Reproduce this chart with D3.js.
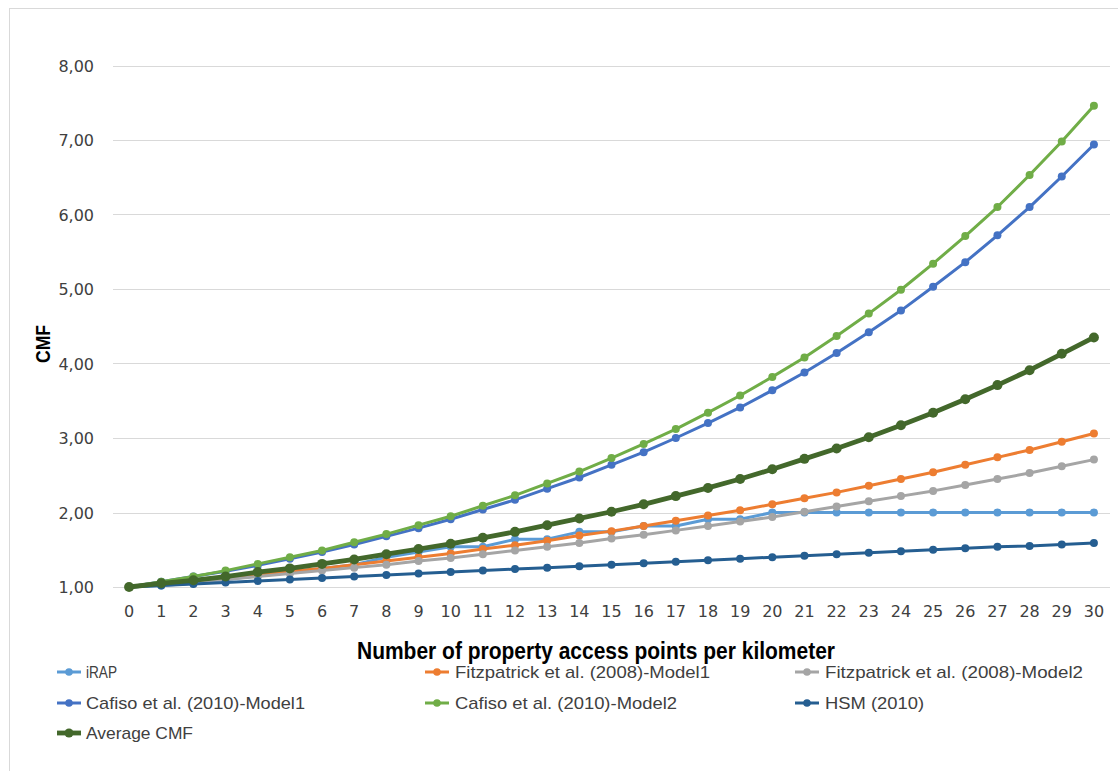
<!DOCTYPE html>
<html><head><meta charset="utf-8">
<script src="https://cdn.jsdelivr.net/npm/d3@7"></script>
<style>html,body{margin:0;padding:0;background:#fff;}svg{display:block;}</style>
</head><body>
<svg id="chart" width="1118" height="771"></svg>
<script>
const categories = [0,1,2,3,4,5,6,7,8,9,10,11,12,13,14,15,16,17,18,19,20,21,22,23,24,25,26,27,28,29,30];
const yTicks = [1,2,3,4,5,6,7,8];
const xTitle = "Number of property access points per kilometer";
const yTitle = "CMF";

const iRAP = [1.00,1.02,1.05,1.10,1.15,1.20,1.25,1.30,1.40,1.47,1.54,1.54,1.64,1.64,1.74,1.74,1.82,1.82,1.91,1.91,2.00,2.00,2.00,2.00,2.00,2.00,2.00,2.00,2.00,2.00,2.00];
const fitz1 = [1.00,1.04,1.08,1.12,1.16,1.21,1.25,1.30,1.35,1.40,1.45,1.51,1.56,1.62,1.69,1.75,1.82,1.89,1.96,2.03,2.11,2.19,2.27,2.36,2.45,2.54,2.64,2.74,2.84,2.95,3.06];
const fitz2 = [1.00,1.03,1.07,1.10,1.14,1.18,1.22,1.26,1.30,1.35,1.39,1.44,1.49,1.54,1.59,1.65,1.70,1.76,1.82,1.88,1.94,2.01,2.08,2.15,2.22,2.29,2.37,2.45,2.53,2.62,2.71];
const cafiso1 = [1.00,1.07,1.14,1.21,1.29,1.38,1.47,1.57,1.68,1.79,1.91,2.04,2.17,2.32,2.47,2.64,2.81,3.00,3.20,3.41,3.64,3.88,4.14,4.42,4.71,5.03,5.36,5.72,6.10,6.51,6.94];
const cafiso2 = [1.00,1.07,1.14,1.22,1.31,1.40,1.49,1.60,1.71,1.83,1.95,2.09,2.23,2.39,2.55,2.73,2.92,3.12,3.34,3.57,3.82,4.08,4.37,4.67,4.99,5.34,5.71,6.10,6.53,6.98,7.46];
const hsm = [1.00,1.02,1.04,1.06,1.08,1.10,1.12,1.14,1.16,1.18,1.20,1.22,1.24,1.26,1.28,1.30,1.32,1.34,1.36,1.38,1.40,1.42,1.44,1.46,1.48,1.50,1.52,1.54,1.55,1.57,1.59];
const avgCMF = [1.00,1.05,1.09,1.14,1.20,1.25,1.31,1.37,1.44,1.51,1.58,1.66,1.74,1.83,1.92,2.01,2.11,2.22,2.33,2.45,2.58,2.72,2.86,3.01,3.17,3.34,3.52,3.71,3.91,4.13,4.35];

const seriesNames = ["iRAP","Fitzpatrick et al. (2008)-Model1","Fitzpatrick et al. (2008)-Model2","Cafiso et al. (2010)-Model1","Cafiso et al. (2010)-Model2","HSM (2010)","Average CMF"];
const seriesValues = [iRAP, fitz1, fitz2, cafiso1, cafiso2, hsm, avgCMF];
const seriesColors = ["#5b9bd5","#ed7d31","#a5a5a5","#4472c4","#70ad47","#255e91","#43682b"];
const legendWidths = [31,255,258,219,222,99,107];

const svg = d3.select("#chart");
const plot = {left:113, right:1110, top:65.5, bottom:587};

// outer frame
svg.append("rect").attr("x",9.5).attr("y",8.5).attr("width",1130).attr("height",790)
  .attr("fill","#fff").attr("stroke","#d9d9d9").attr("stroke-width",1);

const x = d3.scalePoint().domain(categories).range([plot.left, plot.right]).padding(0.5);
const y = d3.scaleLinear().domain([1,8]).range([plot.bottom, plot.top]);

const loc = d3.formatLocale({decimal:",", thousands:".", grouping:[3], currency:["","€"]});
const fmt = loc.format(".2f");

// gridlines
svg.append("g").selectAll("line").data(yTicks).join("line")
  .attr("x1",plot.left).attr("x2",plot.right)
  .attr("y1",d=>Math.round(y(d))+0.5).attr("y2",d=>Math.round(y(d))+0.5)
  .attr("stroke","#d9d9d9").attr("stroke-width",1);

// y tick labels
svg.append("g").selectAll("text").data(yTicks).join("text")
  .attr("x",94).attr("y",d=>y(d)+6)
  .attr("text-anchor","end")
  .attr("font-family","DejaVu Sans, sans-serif").attr("font-size",16).attr("fill","#404040")
  .text(d=>fmt(d));

// x tick labels
svg.append("g").selectAll("text").data(categories).join("text")
  .attr("x",d=>x(d)).attr("y",617)
  .attr("text-anchor","middle")
  .attr("font-family","DejaVu Sans, sans-serif").attr("font-size",16).attr("fill","#404040")
  .text(d=>d);

// axis titles
svg.append("text").attr("x",596).attr("y",659).attr("text-anchor","middle")
  .attr("font-family","Liberation Sans Narrow, Arial Narrow, Liberation Sans, sans-serif")
  .attr("font-weight","bold").attr("font-size",23).attr("fill","#000")
  .attr("textLength",478).attr("lengthAdjust","spacingAndGlyphs")
  .text(xTitle);
svg.append("text").attr("transform","translate(50,344) rotate(-90)").attr("text-anchor","middle")
  .attr("font-family","Liberation Sans Narrow, Arial Narrow, Liberation Sans, sans-serif")
  .attr("font-weight","bold").attr("font-size",20).attr("fill","#000")
  .attr("textLength",38).attr("lengthAdjust","spacingAndGlyphs")
  .text(yTitle);

// series
const line = d3.line().x((d,i)=>x(categories[i])).y(d=>y(d));
seriesValues.forEach((vals,si)=>{
  const isAvg = si===6;
  const g = svg.append("g");
  g.append("path").attr("d",line(vals)).attr("fill","none")
    .attr("stroke",seriesColors[si]).attr("stroke-width",isAvg?4.8:3)
    .attr("stroke-linejoin","round").attr("stroke-linecap","round");
  g.selectAll("circle").data(vals).join("circle")
    .attr("cx",(d,i)=>x(categories[i])).attr("cy",d=>y(d))
    .attr("r",isAvg?5:4).attr("fill",seriesColors[si]);
});

// legend
const colLine = [57,425,795];
const colText = [86,455,825];
const rowY = [672,703,733];
seriesNames.forEach((name,i)=>{
  const c = i%3, r = Math.floor(i/3);
  const g = svg.append("g");
  const isAvg = i===6;
  g.append("line").attr("x1",colLine[c]).attr("x2",colLine[c]+24)
    .attr("y1",rowY[r]).attr("y2",rowY[r])
    .attr("stroke",seriesColors[i]).attr("stroke-width",isAvg?4.8:3);
  g.append("circle").attr("cx",colLine[c]+12).attr("cy",rowY[r]).attr("r",isAvg?4.5:3.8)
    .attr("fill",seriesColors[i]);
  g.append("text").attr("x",colText[c]).attr("y",rowY[r]+6)
    .attr("font-family","Liberation Sans, Arial, sans-serif").attr("font-size",17).attr("fill","#404040")
    .attr("textLength",legendWidths[i]).attr("lengthAdjust","spacingAndGlyphs")
    .text(name);
});
</script>
</body></html>
